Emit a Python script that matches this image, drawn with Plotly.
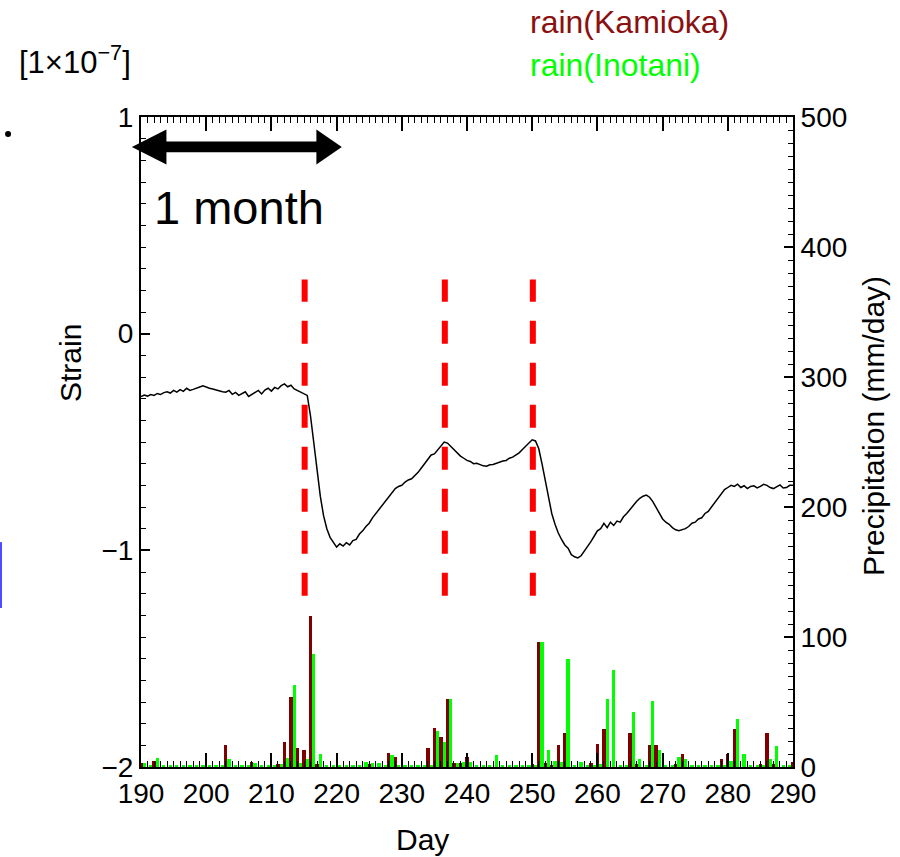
import plotly.graph_objects as go

# ---------------- data ----------------
days = list(range(190, 291))

rain_kamioka = [
    3, 0, 5, 0, 0, 0, 0, 0, 0, 0,
    0, 0, 0, 17, 0, 0, 0, 4, 0, 0,
    0, 2, 19, 54, 15, 13, 116, 2, 0, 0,
    0, 0, 0, 0, 0, 2, 0, 0, 11, 8,
    0, 0, 0, 0, 15, 30, 23, 52, 3, 3,
    8, 0, 0, 0, 0, 0, 0, 0, 0, 0,
    2, 96, 3, 1, 17, 26, 0, 0, 0, 3,
    18, 29, 0, 0, 0, 26, 2, 0, 17, 17,
    0, 0, 2, 10, 0, 0, 0, 0, 0, 6,
    10, 29, 0, 0, 0, 2, 26, 2, 0, 0,
    4,
]

rain_inotani = [
    3, 1, 7, 1, 1, 1, 1, 1, 1, 1,
    1, 1, 1, 6, 1, 1, 1, 3, 1, 1,
    1, 2, 7, 63, 3, 6, 87, 10, 1, 1,
    1, 1, 1, 1, 4, 3, 3, 1, 9, 1,
    1, 1, 1, 1, 1, 28, 19, 52, 3, 4,
    4, 1, 1, 1, 9, 1, 1, 1, 1, 1,
    1, 96, 13, 5, 4, 83, 1, 4, 1, 1,
    2, 52, 75, 1, 1, 42, 6, 1, 51, 13,
    1, 1, 8, 6, 1, 1, 1, 1, 1, 1,
    5, 37, 10, 1, 1, 1, 6, 16, 1, 1,
    1,
]

# strain sampled every half day from day 190 to 290
strain_days = [190 + 0.5 * i for i in range(201)]
strain = [
    -0.29, -0.283, -0.288, -0.281, -0.285, -0.276, -0.281, -0.272, -0.268, -0.274,
    -0.262, -0.27, -0.258, -0.266, -0.252, -0.262, -0.257, -0.25, -0.246, -0.241,
    -0.247, -0.252, -0.255, -0.26, -0.262, -0.268, -0.27, -0.262, -0.28, -0.271,
    -0.285, -0.276, -0.268, -0.29, -0.28, -0.272, -0.262, -0.278, -0.26, -0.252,
    -0.265, -0.248, -0.255, -0.24, -0.232, -0.245, -0.238, -0.255, -0.262, -0.27,
    -0.275, -0.285, -0.38, -0.5, -0.62, -0.75, -0.84, -0.9, -0.94, -0.965,
    -0.985, -0.97, -0.98, -0.965, -0.975, -0.955, -0.95, -0.925, -0.91, -0.89,
    -0.875, -0.85, -0.83, -0.81, -0.79, -0.775, -0.755, -0.735, -0.715, -0.705,
    -0.7, -0.685, -0.675, -0.67, -0.655, -0.64, -0.62, -0.6, -0.585, -0.56,
    -0.555, -0.535, -0.52, -0.5, -0.505, -0.52, -0.535, -0.55, -0.565, -0.575,
    -0.585, -0.59, -0.6, -0.598, -0.605, -0.61, -0.612, -0.605, -0.604, -0.598,
    -0.595, -0.588, -0.585, -0.575, -0.57, -0.56, -0.55, -0.535, -0.52, -0.505,
    -0.49, -0.495, -0.53, -0.6, -0.68, -0.76, -0.83, -0.88, -0.92, -0.95,
    -0.975, -0.99, -1.02, -1.03, -1.035, -1.025, -1.005, -0.985, -0.96, -0.935,
    -0.91, -0.9, -0.875, -0.895, -0.87, -0.885, -0.865, -0.87, -0.845, -0.83,
    -0.81, -0.795, -0.775, -0.76, -0.75, -0.745, -0.755, -0.775, -0.8, -0.83,
    -0.855, -0.87, -0.88, -0.895, -0.905, -0.91, -0.905, -0.9, -0.89, -0.875,
    -0.87, -0.855, -0.85, -0.83, -0.82, -0.8, -0.785, -0.76, -0.74, -0.72,
    -0.71, -0.7, -0.705, -0.695, -0.71, -0.702, -0.715, -0.705, -0.702, -0.712,
    -0.705, -0.695, -0.7, -0.71, -0.715, -0.705, -0.698, -0.712, -0.71, -0.7,
    -0.7,
]

event_days = [215.1, 236.6, 250.1]
x_tick_vals = [190, 200, 210, 220, 230, 240, 250, 260, 270, 280, 290]
y_tick_vals = [-2, -1, 0, 1]
y_tick_text = ["\u22122", "\u22121", "0", "1"]
y2_tick_vals = [0, 100, 200, 300, 400, 500]

X_RANGE = [190, 290]
Y_RANGE = [-2, 1]

FONT = "Liberation Sans, Arial, sans-serif"
MAROON = "#800000"
LIME = "#00ff00"


def px_(d):
    return (d - X_RANGE[0]) / (X_RANGE[1] - X_RANGE[0])


def py_(s):
    return (s - Y_RANGE[0]) / (Y_RANGE[1] - Y_RANGE[0])


fig = go.Figure()

fig.add_trace(go.Bar(x=days, y=rain_kamioka, width=0.5, offset=-0.25,
                     marker=dict(color=MAROON, line=dict(width=0)),
                     yaxis="y2", showlegend=False))
fig.add_trace(go.Bar(x=days, y=rain_inotani, width=0.5, offset=0.25,
                     marker=dict(color=LIME, line=dict(width=0)),
                     yaxis="y2", showlegend=False))
fig.add_trace(go.Scatter(x=strain_days, y=strain, mode="lines",
                         line=dict(color="black", width=1.5),
                         showlegend=False))

shapes = []
for d in event_days:
    shapes.append(dict(type="line", xref="x", yref="y", x0=d, x1=d,
                       y0=-1.21, y1=0.25,
                       line=dict(color="#ff0000", width=6, dash="23px,19px")))

# double arrow (1 month) in day/strain units, drawn in paper space
a_y = 0.862
a_head = 0.0807
a_shaft = 0.025
l_tip, l_base, r_base, r_tip = 188.6, 193.9, 216.9, 220.8
pts = [
    (l_tip, a_y),
    (l_base, a_y + a_head),
    (l_base, a_y + a_shaft),
    (r_base, a_y + a_shaft),
    (r_base, a_y + a_head),
    (r_tip, a_y),
    (r_base, a_y - a_head),
    (r_base, a_y - a_shaft),
    (l_base, a_y - a_shaft),
    (l_base, a_y - a_head),
]
path = "M " + " L ".join(f"{px_(x):.5f},{py_(y):.5f}" for x, y in pts) + " Z"
shapes.append(dict(type="path", xref="paper", yref="paper", path=path,
                   fillcolor="black", line=dict(color="black", width=0)))

# stray dot and blue bar from the original slide
shapes.append(dict(type="circle", xref="paper", yref="paper",
                   x0=-0.2085, x1=-0.1993, y0=0.9692, y1=0.9784,
                   fillcolor="black", line=dict(width=0)))
shapes.append(dict(type="line", xref="paper", yref="paper",
                   x0=-0.2147, x1=-0.2147, y0=0.2446, y1=0.346,
                   line=dict(color="#4d4dff", width=2)))

annotations = [
    dict(text="1 month", x=0.0169, y=0.8615, xref="paper", yref="paper",
         xanchor="left", yanchor="middle", showarrow=False,
         font=dict(size=47, color="black", family=FONT)),
    dict(text="[1\u00d710<sup>\u22127</sup>]", x=-0.1900, y=1.088,
         xref="paper", yref="paper", xanchor="left", yanchor="middle",
         showarrow=False, font=dict(size=31, color="black", family=FONT)),
    dict(text="rain(Kamioka)", x=0.5936, y=1.146, xref="paper", yref="paper",
         xanchor="left", yanchor="middle", showarrow=False,
         font=dict(size=32, color="#8b1010", family=FONT)),
    dict(text="rain(Inotani)", x=0.5936, y=1.08, xref="paper", yref="paper",
         xanchor="left", yanchor="middle", showarrow=False,
         font=dict(size=32, color=LIME, family=FONT)),
    dict(text="Strain", x=-0.1089, y=0.6215, xref="paper", yref="paper",
         xanchor="center", yanchor="middle", textangle=-90, showarrow=False,
         font=dict(size=30, color="black", family=FONT)),
    dict(text="Precipitation (mm/day)", x=1.1227, y=0.5246, xref="paper",
         yref="paper", xanchor="center", yanchor="middle", textangle=-90,
         showarrow=False, font=dict(size=30, color="black", family=FONT)),
    dict(text="Day", x=0.431, y=-0.111, xref="paper", yref="paper",
         xanchor="center", yanchor="middle", showarrow=False,
         font=dict(size=30, color="black", family=FONT)),
]

fig.update_layout(
    width=900, height=857,
    margin=dict(l=141, r=107, t=117, b=90),
    paper_bgcolor="white", plot_bgcolor="white",
    barmode="overlay", bargap=0,
    font=dict(family=FONT, size=28, color="black"),
    shapes=shapes, annotations=annotations,
    xaxis=dict(range=X_RANGE, tickvals=x_tick_vals, ticks="inside",
               ticklen=14, tickwidth=1.5, tickcolor="black",
               showline=True, linecolor="black", linewidth=2,
               mirror="ticks", showgrid=False, zeroline=False,
               tickfont=dict(size=28, family=FONT, color="black"),
               minor=dict(dtick=1, ticks="inside", ticklen=6,
                          tickcolor="black", tickwidth=1, showgrid=False)),
    yaxis=dict(range=Y_RANGE, tickvals=y_tick_vals, ticktext=y_tick_text,
               ticks="inside", ticklen=9, tickwidth=1.5, tickcolor="black",
               showline=True, linecolor="black", linewidth=2,
               showgrid=False, zeroline=False,
               tickfont=dict(size=28, family=FONT, color="black"),
               minor=dict(dtick=0.1, ticks="inside", ticklen=5,
                          tickcolor="black", tickwidth=1, showgrid=False)),
    yaxis2=dict(range=[0, 500], overlaying="y", side="right",
                tickvals=y2_tick_vals, ticks="inside", ticklen=9,
                tickwidth=1.5, tickcolor="black",
                showline=True, linecolor="black", linewidth=2,
                showgrid=False, zeroline=False,
                tickfont=dict(size=28, family=FONT, color="black"),
                minor=dict(dtick=10, ticks="inside", ticklen=5,
                           tickcolor="black", tickwidth=1, showgrid=False)),
)

fig.write_html("out.html")
